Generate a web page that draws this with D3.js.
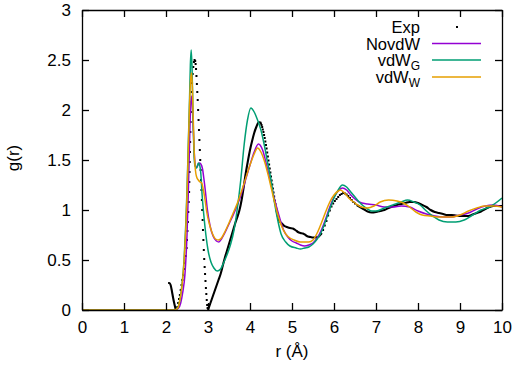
<!DOCTYPE html>
<html><head><meta charset="utf-8">
<script src="https://cdn.jsdelivr.net/npm/d3@7"></script>
<style>
html,body{margin:0;padding:0;background:#fff;}
text{font-family:"Liberation Sans",Arial,sans-serif;}
</style></head>
<body><svg id="c" width="517" height="366"></svg>
<script>
// ---- data ----
const xTicks = [0,1,2,3,4,5,6,7,8,9,10];
const yTicks = [0,0.5,1,1.5,2,2.5,3];
const yTickLabels = ["0","0.5","1","1.5","2","2.5","3"];
const seriesNames = ["Exp","NovdW","vdWG","vdWW"];

// Experimental g(r): parts drawn densely (appear solid) and sparse dotted parts
const expSolid = [
 [[2.05,0.27],[2.08,0.27],[2.11,0.25],[2.14,0.19],[2.17,0.12],[2.2,0.06],[2.23,0.01],[2.25,0.0]],
 [[3.0,0.0],[3.05,0.06],[3.1,0.12],[3.15,0.18],[3.2,0.24],[3.25,0.3],[3.3,0.36],[3.35,0.44],[3.4,0.52],[3.45,0.59],[3.5,0.66],[3.55,0.73],[3.6,0.8],[3.65,0.87],[3.7,0.93],[3.75,1.0],[3.8,1.1],[3.85,1.23],[3.9,1.37],[3.95,1.49],[4.0,1.6],[4.05,1.69],[4.1,1.77],[4.15,1.83],[4.2,1.875],[4.23,1.88]],
 [[4.62,1.025],[4.65,0.96],[4.68,0.91],[4.72,0.88],[4.77,0.86],[4.82,0.84],[4.88,0.83],[4.95,0.82],[5.02,0.815],[5.08,0.8],[5.14,0.78],[5.2,0.77],[5.26,0.765],[5.32,0.75],[5.38,0.735],[5.44,0.73],[5.5,0.725],[5.56,0.725],[5.62,0.73],[5.67,0.75],[5.71,0.77]],
 [[6.54,1.05],[6.6,1.035],[6.7,1.01],[6.8,0.985],[6.9,0.975],[7.0,0.98],[7.1,0.99],[7.2,1.0],[7.3,1.02],[7.4,1.035],[7.5,1.05],[7.6,1.06],[7.7,1.07],[7.8,1.08],[7.9,1.08],[8.0,1.07],[8.1,1.05],[8.2,1.03],[8.3,1.0],[8.4,0.98],[8.5,0.97],[8.6,0.96],[8.7,0.95],[8.8,0.95],[8.9,0.945],[9.0,0.94],[9.1,0.94],[9.2,0.94],[9.3,0.955],[9.4,0.97],[9.5,0.985],[9.6,1.01],[9.7,1.03],[9.8,1.04],[9.9,1.04],[10.0,1.04]]
];
const expDots = [
 [2.27,0.03],[2.29,0.07],[2.31,0.11],[2.33,0.15],[2.35,0.2],[2.37,0.25],[2.39,0.3],[2.41,0.35],[2.43,0.41],[2.45,0.47],[2.47,0.54],[2.49,0.62],[2.5,0.7],[2.51,0.79],[2.52,0.88],[2.53,0.98],[2.54,1.08],[2.55,1.18],[2.555,1.28],[2.56,1.38],[2.565,1.48],[2.57,1.58],[2.575,1.68],[2.58,1.78],[2.585,1.88],[2.59,1.98],[2.6,2.08],[2.61,2.18],[2.62,2.27],[2.635,2.36],[2.65,2.43],[2.665,2.48],[2.68,2.5],
 [2.695,2.49],[2.705,2.46],[2.715,2.41],[2.725,2.34],[2.735,2.26],[2.745,2.18],[2.755,2.1],[2.765,2.0],[2.775,1.9],[2.785,1.8],[2.795,1.7],[2.805,1.6],[2.815,1.5],[2.825,1.4],[2.835,1.3],[2.845,1.2],[2.855,1.1],[2.863,1.0],[2.872,0.9],[2.88,0.8],[2.89,0.7],[2.9,0.6],[2.91,0.51],[2.92,0.43],[2.93,0.36],[2.94,0.29],[2.95,0.22],[2.96,0.16],[2.97,0.1],[2.98,0.05],[2.99,0.02],
 [4.245,1.875],[4.26,1.865],[4.275,1.85],[4.29,1.83],[4.305,1.805],[4.32,1.78],[4.335,1.75],[4.35,1.72],[4.365,1.685],[4.38,1.65],[4.395,1.615],[4.41,1.575],[4.425,1.535],[4.44,1.495],[4.455,1.455],[4.47,1.415],[4.485,1.375],[4.5,1.335],[4.515,1.295],[4.53,1.255],[4.545,1.215],[4.56,1.175],[4.575,1.135],[4.59,1.095],[4.605,1.06],
 [5.74,0.8],[5.78,0.845],[5.82,0.89],[5.86,0.945],[5.9,0.995],[5.94,1.035],[5.98,1.065],[6.02,1.09],[6.06,1.11],[6.1,1.13],[6.14,1.15],[6.18,1.16],[6.22,1.17],[6.26,1.165],[6.3,1.155],[6.34,1.14],[6.38,1.12],[6.42,1.1],[6.46,1.08],[6.5,1.065]
];

const novdwR = [0,2.2,2.3,2.35,2.4,2.45,2.5,2.53,2.56,2.58,2.6,2.62,2.65,2.68,2.71,2.75,2.79,2.83,2.87,2.9,2.94,2.98,3.05,3.12,3.2,3.26,3.32,3.4,3.5,3.6,3.7,3.8,3.9,4.0,4.1,4.2,4.3,4.4,4.5,4.6,4.7,4.8,4.9,5.0,5.1,5.2,5.3,5.4,5.5,5.6,5.7,5.8,5.9,6.0,6.1,6.2,6.3,6.4,6.5,6.6,6.8,7.0,7.2,7.4,7.6,7.8,8.0,8.2,8.4,8.6,8.8,9.0,9.2,9.4,9.6,9.8,10];
const novdwG = [0,0,0.02,0.07,0.18,0.35,0.75,1.15,1.65,1.98,2.14,2.08,1.8,1.52,1.42,1.44,1.47,1.46,1.41,1.32,1.18,1.02,0.84,0.74,0.69,0.68,0.71,0.77,0.86,0.95,1.05,1.17,1.31,1.45,1.58,1.66,1.6,1.44,1.26,1.08,0.93,0.8,0.73,0.69,0.67,0.65,0.64,0.65,0.67,0.72,0.8,0.91,1.03,1.13,1.19,1.22,1.2,1.15,1.11,1.08,1.06,1.05,1.03,1.03,1.04,1.03,0.99,0.96,0.94,0.93,0.93,0.95,0.97,1.01,1.04,1.05,1.03];

const vdwgR = [0,2.2,2.28,2.33,2.38,2.43,2.47,2.5,2.53,2.56,2.58,2.6,2.62,2.64,2.66,2.69,2.73,2.77,2.8,2.83,2.86,2.9,2.95,3.0,3.07,3.14,3.22,3.3,3.38,3.46,3.54,3.62,3.7,3.78,3.86,3.94,4.02,4.1,4.18,4.26,4.34,4.42,4.5,4.58,4.66,4.74,4.85,4.95,5.1,5.2,5.3,5.4,5.5,5.6,5.7,5.8,5.9,6.0,6.1,6.2,6.3,6.4,6.5,6.6,6.7,6.8,6.9,7.0,7.2,7.4,7.6,7.75,7.9,8.05,8.2,8.35,8.5,8.7,8.9,9.1,9.3,9.5,9.7,9.85,10];
const vdwgG = [0,0,0.02,0.1,0.25,0.5,0.85,1.2,1.65,2.1,2.45,2.6,2.42,2.02,1.65,1.44,1.42,1.47,1.45,1.36,1.15,0.95,0.75,0.6,0.48,0.42,0.39,0.41,0.48,0.56,0.66,0.8,1.02,1.3,1.65,1.9,2.02,1.98,1.9,1.8,1.65,1.47,1.3,1.08,0.9,0.76,0.68,0.64,0.62,0.61,0.62,0.63,0.66,0.71,0.78,0.89,1.01,1.12,1.2,1.25,1.23,1.18,1.13,1.08,1.04,1.01,0.99,0.99,1.02,1.05,1.08,1.1,1.08,1.05,0.99,0.94,0.9,0.88,0.88,0.9,0.95,1.0,1.03,1.07,1.12];

const vdwwR = [0,2.2,2.28,2.33,2.38,2.43,2.47,2.5,2.53,2.56,2.59,2.61,2.63,2.65,2.67,2.7,2.73,2.77,2.81,2.85,2.89,2.93,2.97,3.02,3.1,3.18,3.25,3.32,3.4,3.5,3.6,3.7,3.8,3.9,4.0,4.1,4.18,4.26,4.35,4.45,4.55,4.65,4.75,4.85,4.95,5.05,5.2,5.3,5.4,5.5,5.6,5.7,5.8,5.9,6.0,6.1,6.15,6.25,6.35,6.5,6.65,6.8,6.95,7.1,7.3,7.5,7.65,7.8,7.95,8.1,8.3,8.5,8.8,9.0,9.2,9.4,9.6,9.8,10];
const vdwwG = [0,0,0.02,0.1,0.24,0.48,0.8,1.15,1.6,2.05,2.32,2.37,2.2,1.9,1.6,1.4,1.33,1.3,1.28,1.27,1.2,1.1,0.98,0.88,0.77,0.71,0.7,0.72,0.78,0.87,0.97,1.07,1.19,1.32,1.45,1.56,1.62,1.58,1.48,1.32,1.14,0.97,0.84,0.76,0.72,0.7,0.68,0.68,0.68,0.7,0.77,0.87,0.98,1.08,1.15,1.19,1.2,1.17,1.12,1.07,1.03,1.02,1.04,1.08,1.1,1.09,1.07,1.03,0.98,0.95,0.94,0.93,0.93,0.95,0.99,1.02,1.04,1.04,1.03];

const colors = {NovdW:"#9400d3", vdWG:"#009e73", vdWW:"#e69f00"};

// ---- chart ----
const svg = d3.select("#c");
const W = 517, H = 366;
const m = {l:82, r:502, t:10, b:310};
const x = d3.scaleLinear().domain([0,10]).range([m.l, m.r]);
const y = d3.scaleLinear().domain([0,3]).range([m.b, m.t]);
const FS = 17;
const FF = "'Liberation Sans',Arial,sans-serif";

svg.append("rect").attr("width",W).attr("height",H).attr("fill","#fff");

svg.append("clipPath").attr("id","clip").append("rect")
  .attr("x",m.l).attr("y",m.t-2).attr("width",m.r-m.l).attr("height",m.b-m.t+2);

const plot = svg.append("g").attr("clip-path","url(#clip)");

// Exp: dense parts
const lineE = d3.line().x(d=>x(d[0])).y(d=>y(d[1])).curve(d3.curveMonotoneX);
expSolid.forEach(seg=>{
  plot.append("path").attr("d",lineE(seg)).attr("fill","none")
    .attr("stroke","#000").attr("stroke-width",2.1).attr("stroke-linejoin","round");
});
plot.selectAll("rect.ed").data(expDots).join("rect").attr("class","ed")
  .attr("x",d=>x(d[0])-1).attr("y",d=>y(d[1])-1).attr("width",2).attr("height",2).attr("fill","#000");

function drawSeries(R,G,col){
  const data = R.map((r,i)=>[r,G[i]]);
  plot.append("path").attr("d",d3.line().x(d=>x(d[0])).y(d=>y(d[1])).curve(d3.curveMonotoneX)(data))
    .attr("fill","none").attr("stroke",col).attr("stroke-width",1.5).attr("stroke-linejoin","round");
}
drawSeries(novdwR,novdwG,colors.NovdW);
drawSeries(vdwgR,vdwgG,colors.vdWG);
drawSeries(vdwwR,vdwwG,colors.vdWW);

// axes
const ax = svg.append("g");
ax.append("g").attr("transform",`translate(0,${m.b})`)
  .call(d3.axisBottom(x).tickValues(xTicks).tickFormat(d3.format("d")).tickSizeInner(-7).tickSizeOuter(0).tickPadding(11));
ax.append("g").attr("transform",`translate(${m.l},0)`)
  .call(d3.axisLeft(y).tickValues(yTicks).tickFormat((d,i)=>yTickLabels[i]).tickSizeInner(-7).tickSizeOuter(0).tickPadding(11));
ax.append("g").attr("transform",`translate(0,${m.t})`)
  .call(d3.axisTop(x).tickValues(xTicks).tickFormat("").tickSizeInner(-7).tickSizeOuter(0));
ax.append("g").attr("transform",`translate(${m.r},0)`)
  .call(d3.axisRight(y).tickValues(yTicks).tickFormat("").tickSizeInner(-7).tickSizeOuter(0));
ax.selectAll(".domain").attr("stroke","#000").attr("stroke-width",1.3);
ax.selectAll(".tick line").attr("stroke","#000").attr("stroke-width",1.3);
ax.selectAll("text").attr("fill","#000").attr("font-family",FF).attr("font-size",FS);

// axis titles
svg.append("text").attr("x",(m.l+m.r)/2).attr("y",357).attr("text-anchor","middle")
  .attr("font-family",FF).attr("font-size",FS).text("r (Å)");
svg.append("text").attr("transform","translate(19,158) rotate(-90)").attr("text-anchor","middle")
  .attr("font-family",FF).attr("font-size",FS).text("g(r)");

// legend
const legY = [32.5,49.5,66,83];
const leg = svg.append("g").attr("font-size",16.5).attr("font-family",FF);
const labels = [["Exp",""],["NovdW",""],["vdW","G"],["vdW","W"]];
labels.forEach((lb,i)=>{
  const t = leg.append("text").attr("x",420).attr("y",legY[i]).attr("text-anchor","end");
  t.append("tspan").text(lb[0]);
  if(lb[1]) t.append("tspan").attr("font-size",12).attr("dy",3.5).text(lb[1]);
});
leg.append("rect").attr("x",456).attr("y",legY[0]-6.5).attr("width",2).attr("height",2).attr("fill","#000");
["NovdW","vdWG","vdWW"].forEach((k,i)=>{
  leg.append("line").attr("x1",432).attr("x2",481).attr("y1",legY[i+1]-6).attr("y2",legY[i+1]-6)
    .attr("stroke",colors[k]).attr("stroke-width",1.5);
});
</script></body></html>
